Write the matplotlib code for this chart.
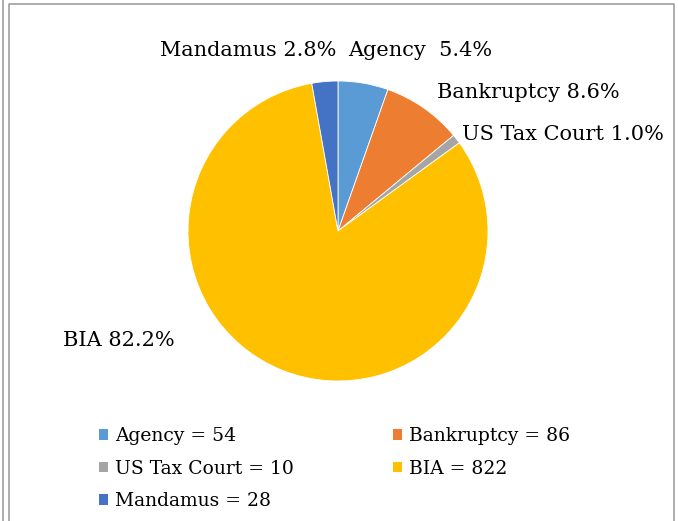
import matplotlib.pyplot as plt
from matplotlib.patches import Patch
from matplotlib.lines import Line2D

categories = ['Agency', 'Bankruptcy', 'US Tax Court', 'BIA', 'Mandamus']
counts = [54, 86, 10, 822, 28]
percents = ['5.4%', '8.6%', '1.0%', '82.2%', '2.8%']
colors = ['#5B9BD5', '#ED7D31', '#A5A5A5', '#FFC000', '#4472C4']

plt.rcParams['font.family'] = ['DejaVu Serif']

W, H = 678, 521
fig = plt.figure(figsize=(W / 100, H / 100), dpi=100)

def fx(px):
    return px / W

def fy(py):
    return 1 - py / H

# pie, centre (338, 231), radius 150 px
cx, cy, r = 338, 231, 150
ax = fig.add_axes([fx(cx - r), fy(cy + r), 2 * r / W, 2 * r / H])
ax.pie(counts, colors=colors, startangle=90, counterclock=False,
       wedgeprops=dict(edgecolor='white', linewidth=0.6))
ax.set_xlim(-1, 1)
ax.set_ylim(-1, 1)
ax.axis('off')

# slice labels
label_pos = {
    'Mandamus': (248, 50),
    'Agency': (420, 50),
    'Bankruptcy': (528, 92),
    'US Tax Court': (563, 135),
    'BIA': (119, 340),
}
for cat, pct in zip(categories, percents):
    sep = '  ' if cat == 'Agency' else ' '
    x, y = label_pos[cat]
    fig.text(fx(x), fy(y), cat + sep + pct, ha='center', va='center', fontsize=15)

# legend, two columns
handles = [Patch(facecolor=c, edgecolor='none') for c in colors]
col1 = [0, 2, 4]
col2 = [1, 3]
for idx, x0 in [(col1, 99), (col2, 393)]:
    leg = fig.legend([handles[i] for i in idx],
                     [f'{categories[i]} = {counts[i]}' for i in idx],
                     loc='upper left', bbox_to_anchor=(fx(x0), fy(427)),
                     frameon=False, fontsize=13.5, borderpad=0, borderaxespad=0,
                     handlelength=0.5, handleheight=0.5, handletextpad=0.35,
                     labelspacing=0.78)

# outer frame lines
gray = '#A0A0A0'
fig.add_artist(Line2D([fx(3), fx(3)], [0, 1], color=gray, lw=1.2))
fig.add_artist(Line2D([fx(9), fx(9), fx(674), fx(674)], [0, fy(4), fy(4), 0],
                      color=gray, lw=1.2))

fig.savefig('out.png', dpi=100)
